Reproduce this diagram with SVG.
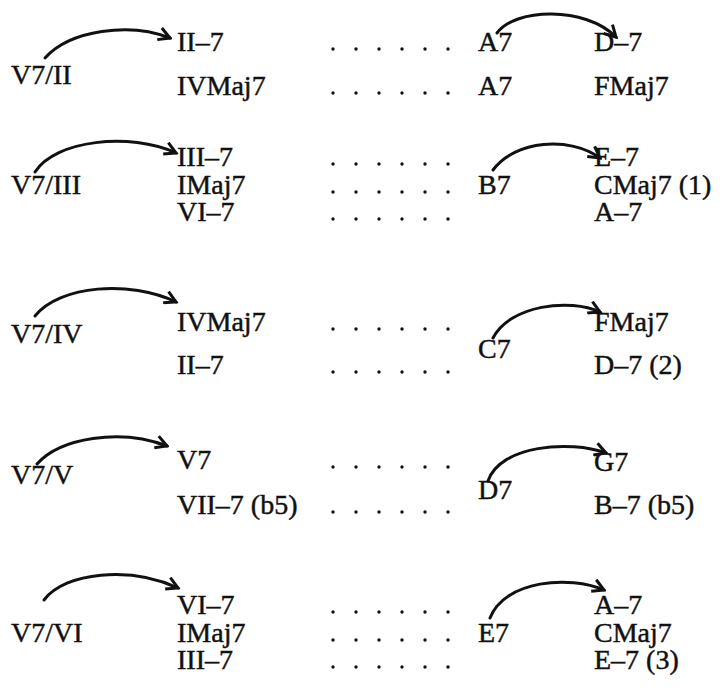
<svg xmlns="http://www.w3.org/2000/svg" width="720" height="691" viewBox="0 0 720 691">
<defs>
<style>
text{font-family:"Liberation Serif","DejaVu Serif",serif;font-size:28px;fill:#111;stroke:#111;stroke-width:0.45}
.dot{fill:#111}
.arc{fill:none;stroke:#111;stroke-width:3;stroke-linecap:round}
</style>
<marker id="ah" viewBox="0 0 12 12" refX="10" refY="6" markerWidth="5" markerHeight="5" orient="auto" markerUnits="strokeWidth">
<path d="M1,1 L10,6 L1,11" fill="none" stroke="#111" stroke-width="2.4"/>
</marker>
<g id="dots6"><circle cx="0" cy="0" r="1.7"/><circle cx="23" cy="0" r="1.7"/><circle cx="46" cy="0" r="1.7"/><circle cx="69" cy="0" r="1.7"/><circle cx="92" cy="0" r="1.7"/><circle cx="115" cy="0" r="1.7"/></g>
</defs>
<rect width="720" height="691" fill="#fff"/>
<g id="connectors">
<path class="arc" marker-end="url(#ah)" d="M45,58 C70,30 130,22 170,38"/>
<path class="arc" marker-end="url(#ah)" d="M497,33 C515,8 585,6 616,37"/>
<path class="arc" marker-end="url(#ah)" d="M35,172 C55,140 130,132 176,153"/>
<path class="arc" marker-end="url(#ah)" d="M493,170 C515,140 570,136 600,158"/>
<path class="arc" marker-end="url(#ah)" d="M35,316 C60,285 130,280 176,302"/>
<path class="arc" marker-end="url(#ah)" d="M493,338 C510,305 570,298 600,312"/>
<path class="arc" marker-end="url(#ah)" d="M37,464 C60,438 120,428 167,446"/>
<path class="arc" marker-end="url(#ah)" d="M488,481 C500,445 570,440 606,453"/>
<path class="arc" marker-end="url(#ah)" d="M44,600 C65,572 130,566 178,588"/>
<path class="arc" marker-end="url(#ah)" d="M490,618 C505,580 570,575 604,590"/>
</g>
<g id="block1">
<text x="11" y="84">V7/II</text>
<text x="177" y="51">II–7</text>
<text x="177" y="95">IVMaj7</text>
<use href="#dots6" x="333" y="49" class="dot"/>
<use href="#dots6" x="333" y="93" class="dot"/>
<text x="478" y="51">A7</text>
<text x="478" y="95">A7</text>
<text x="594" y="51">D–7</text>
<text x="594" y="95">FMaj7</text>
</g>
<g id="block2">
<text x="11" y="194">V7/III</text>
<text x="177" y="166">III–7</text>
<text x="177" y="194">IMaj7</text>
<text x="177" y="221">VI–7</text>
<use href="#dots6" x="333" y="164" class="dot"/>
<use href="#dots6" x="333" y="192" class="dot"/>
<use href="#dots6" x="333" y="219" class="dot"/>
<text x="478" y="194">B7</text>
<text x="594" y="166">E–7</text>
<text x="594" y="194">CMaj7 (1)</text>
<text x="594" y="221">A–7</text>
</g>
<g id="block3">
<text x="11" y="343">V7/IV</text>
<text x="177" y="331">IVMaj7</text>
<text x="177" y="374">II–7</text>
<use href="#dots6" x="333" y="329" class="dot"/>
<use href="#dots6" x="333" y="372" class="dot"/>
<text x="478" y="358">C7</text>
<text x="594" y="331">FMaj7</text>
<text x="594" y="374">D–7 (2)</text>
</g>
<g id="block4">
<text x="11" y="484">V7/V</text>
<text x="177" y="469">V7</text>
<text x="177" y="514">VII–7 (b5)</text>
<use href="#dots6" x="333" y="467" class="dot"/>
<use href="#dots6" x="333" y="512" class="dot"/>
<text x="478" y="499">D7</text>
<text x="594" y="471">G7</text>
<text x="594" y="514">B–7 (b5)</text>
</g>
<g id="block5">
<text x="11" y="642">V7/VI</text>
<text x="177" y="614">VI–7</text>
<text x="177" y="642">IMaj7</text>
<text x="177" y="669">III–7</text>
<use href="#dots6" x="333" y="612" class="dot"/>
<use href="#dots6" x="333" y="640" class="dot"/>
<use href="#dots6" x="333" y="667" class="dot"/>
<text x="478" y="642">E7</text>
<text x="594" y="614">A–7</text>
<text x="594" y="642">CMaj7</text>
<text x="594" y="669">E–7 (3)</text>
</g>
</svg>
